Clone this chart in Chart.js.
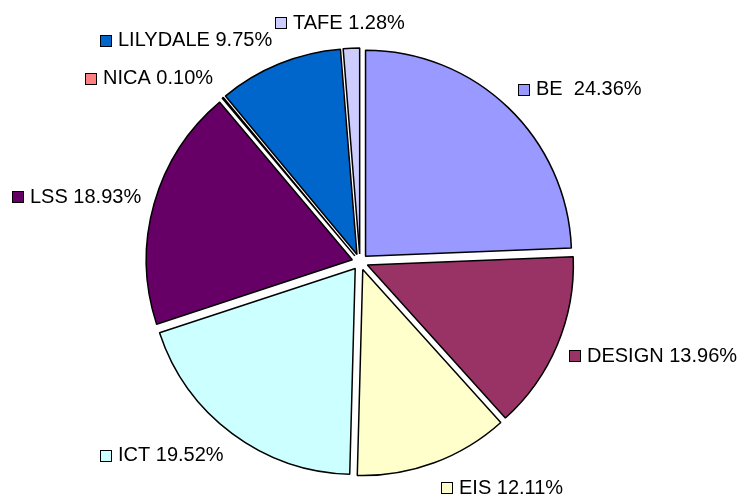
<!DOCTYPE html>
<html>
<head>
<meta charset="utf-8">
<script src="https://cdn.jsdelivr.net/npm/chart.js@4/dist/chart.umd.min.js"></script>
<style>
  html, body { margin: 0; padding: 0; background: #fff; }
  #wrap { width: 740px; height: 495px; }
</style>
</head>
<body>
<div id="wrap"><canvas id="myChart" width="740" height="495"></canvas></div>
<script>
const categories = ['BE', 'DESIGN', 'EIS', 'ICT', 'LSS', 'NICA', 'LILYDALE', 'TAFE']
const shares = [24.36, 13.96, 12.11, 19.52, 18.93, 0.10, 9.75, 1.28]
const labelText = ['BE  24.36%', 'DESIGN 13.96%', 'EIS 12.11%', 'ICT 19.52%', 'LSS 18.93%', 'NICA 0.10%', 'LILYDALE 9.75%', 'TAFE 1.28%']
const colors = ['#9999FF', '#993366', '#FFFFCC', '#CCFFFF', '#660066', '#FF8080', '#0066CC', '#CCCCFF']

const EXPLODE = 8
const RADIUS = 206
const FONT = '20px "Liberation Sans", Arial, sans-serif'

// push every slice out along its own bisector (like an exploded Excel pie)
const explodePlugin = {
    id: 'explode',
    afterDatasetUpdate(chart, args) {
        args.meta.data.forEach(arc => {
            const mid = (arc.startAngle + arc.endAngle) / 2
            arc.x += Math.cos(mid) * EXPLODE
            arc.y += Math.sin(mid) * EXPLODE
        })
    }
}

// labels outside each slice with a little colour key square
const outsideLabels = {
    id: 'outsideLabels',
    afterDatasetsDraw(chart) {
        const c = chart.ctx
        const meta = chart.getDatasetMeta(0)
        c.save()
        c.font = FONT
        c.textBaseline = 'middle'
        c.textAlign = 'left'
        meta.data.forEach((arc, i) => {
            const mid = (arc.startAngle + arc.endAngle) / 2
            const ux = Math.cos(mid), uy = Math.sin(mid)
            const px = arc.x + ux * (arc.outerRadius + 10)
            const py = arc.y + uy * (arc.outerRadius + 10)
            const tw = c.measureText(labelText[i]).width
            const w = 12 + 6 + tw
            const k = Math.max(-1, Math.min(1, ux * 4))
            const cx = px + k * (w / 2 + 3)
            const cy = py + 16 * uy
            const left = Math.round(cx - w / 2)
            const sq = Math.round(cy - 5) + 0.5
            c.fillStyle = colors[i]
            c.fillRect(left + 0.5, sq, 11, 11)
            c.strokeStyle = '#000'
            c.lineWidth = 1
            c.strokeRect(left + 0.5, sq, 11, 11)
            c.fillStyle = '#000'
            c.fillText(labelText[i], left + 18, cy + 1)
        })
        c.restore()
    }
}

const ctx = document.getElementById('myChart')

new Chart(ctx, {
    type: 'pie',
    data: {
        labels: categories,
        datasets: [{
            data: shares,
            backgroundColor: colors,
            borderColor: '#000',
            borderWidth: 1.5,
            radius: RADIUS
        }]
    },
    options: {
        responsive: false,
        animation: false,
        events: [],
        layout: {
            padding: { left: 0, right: 20, top: 29, bottom: 0 }
        },
        plugins: {
            legend: { display: false },
            tooltip: { enabled: false }
        }
    },
    plugins: [explodePlugin, outsideLabels]
});
</script>
</body>
</html>
